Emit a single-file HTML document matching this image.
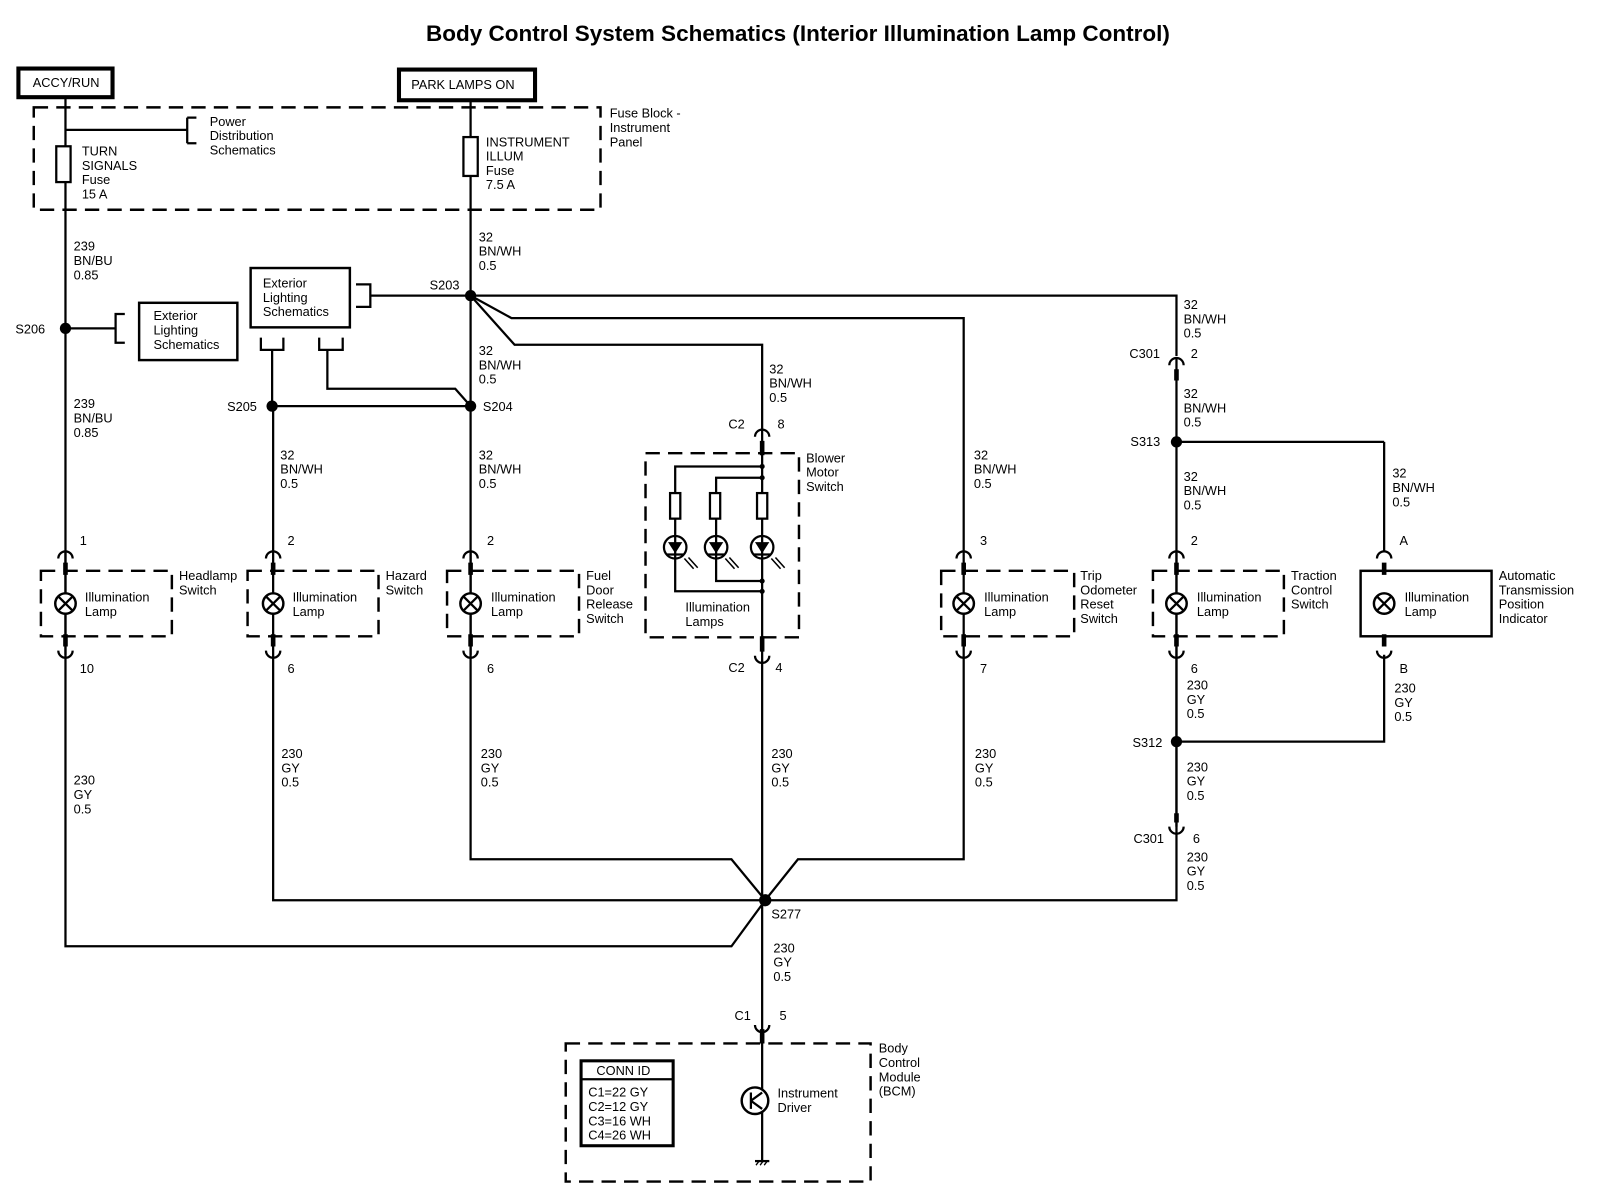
<!DOCTYPE html>
<html><head><meta charset="utf-8"><style>
html,body{margin:0;padding:0;background:#fff;}
svg{display:block;}
text{font-family:"Liberation Sans",sans-serif;font-size:12.5px;fill:#000;}
.t{font-size:22px;font-weight:bold;}
.w{stroke:#000;stroke-width:2.2;fill:none;}
.d{stroke:#000;stroke-width:2.4;fill:none;stroke-dasharray:14,8;}
.k{stroke:#000;stroke-width:4.5;fill:none;}
.f{fill:#000;}
</style></head><body>
<svg width="1600" height="1202" viewBox="0 0 1564 1175" preserveAspectRatio="none" xmlns="http://www.w3.org/2000/svg">
<text class="t" x="780" y="40" text-anchor="middle">Body Control System Schematics (Interior Illumination Lamp Control)</text>

<!-- power boxes -->
<rect x="18" y="67" width="92" height="28" fill="none" stroke="#000" stroke-width="4"/>
<text x="32" y="85">ACCY/RUN</text>
<rect x="390" y="68" width="133" height="30" fill="none" stroke="#000" stroke-width="4"/>
<text x="402" y="87">PARK LAMPS ON</text>

<!-- fuse block -->
<rect x="33" y="105" width="554" height="100" class="d"/>
<text x="596" y="115">Fuse Block -</text><text x="596" y="129">Instrument</text><text x="596" y="143">Panel</text>
<path class="w" d="M64 95 V925 H715 L748 880"/>
<path class="w" d="M64 127 H183 M183 115 V140 M183 115 H192 M183 140 H192"/>
<text x="205" y="123">Power</text><text x="205" y="137">Distribution</text><text x="205" y="151">Schematics</text>
<rect x="55" y="143" width="14" height="35" fill="#fff" stroke="#000" stroke-width="2.2"/>
<text x="80" y="152">TURN</text><text x="80" y="166">SIGNALS</text><text x="80" y="180">Fuse</text><text x="80" y="194">15 A</text>

<path class="w" d="M460 98 V840 H715 L748 880"/>
<rect x="453" y="134" width="14" height="38" fill="#fff" stroke="#000" stroke-width="2.2"/>
<text x="475" y="143">INSTRUMENT</text><text x="475" y="157">ILLUM</text><text x="475" y="171">Fuse</text><text x="475" y="185">7.5 A</text>

<text x="468" y="236">32</text><text x="468" y="250">BN/WH</text><text x="468" y="264">0.5</text>
<text x="72" y="245">239</text><text x="72" y="259">BN/BU</text><text x="72" y="273">0.85</text>

<!-- S203 area -->
<circle cx="460" cy="289" r="5.5" class="f"/>
<text x="420" y="283">S203</text>
<path class="w" d="M362 289 H1150 V348"/>
<path class="w" d="M460 289 L500 311 H942 V540"/>
<path class="w" d="M460 289 L503 337 H745 V420"/>
<rect x="245" y="262" width="97" height="58" fill="none" stroke="#000" stroke-width="2.4"/>
<text x="257" y="281">Exterior</text><text x="257" y="295">Lighting</text><text x="257" y="309">Schematics</text>
<path class="w" d="M348 278 H362 V300 H348"/>
<path class="w" d="M255 330 V342 H277 V330 M266 342 V397"/>
<path class="w" d="M312 330 V342 H335 V330 M320 342 V380 H445 L460 397"/>
<path class="w" d="M266 397 H460"/>
<circle cx="266" cy="397" r="5.5" class="f"/><circle cx="460" cy="397" r="5.5" class="f"/>
<text x="222" y="402">S205</text><text x="472" y="402">S204</text>
<text x="468" y="347">32</text><text x="468" y="361">BN/WH</text><text x="468" y="375">0.5</text>

<!-- S206 -->
<circle cx="64" cy="321" r="5.5" class="f"/>
<text x="15" y="326">S206</text>
<path class="w" d="M64 321 H113 M122 307 H113 V335 H122"/>
<rect x="136" y="296" width="96" height="56" fill="none" stroke="#000" stroke-width="2.4"/>
<text x="150" y="313">Exterior</text><text x="150" y="327">Lighting</text><text x="150" y="341">Schematics</text>
<text x="72" y="399">239</text><text x="72" y="413">BN/BU</text><text x="72" y="427">0.85</text>
<text x="274" y="449">32</text><text x="274" y="463">BN/WH</text><text x="274" y="477">0.5</text>
<text x="468" y="449">32</text><text x="468" y="463">BN/WH</text><text x="468" y="477">0.5</text>
<text x="752" y="365">32</text><text x="752" y="379">BN/WH</text><text x="752" y="393">0.5</text>
<text x="952" y="449">32</text><text x="952" y="463">BN/WH</text><text x="952" y="477">0.5</text>

<!-- hazard wire -->
<path class="w" d="M267 397 V880 H1150 V350"/>
<path class="w" d="M942 540 V840 H780 L748 880"/>

<!-- connectors top (arc at y=540) -->
<g class="w">
<path d="M57 546 A7 7 0 0 1 71 546"/><path d="M260 546 A7 7 0 0 1 274 546"/><path d="M453 546 A7 7 0 0 1 467 546"/>
<path d="M935 546 A7 7 0 0 1 949 546"/><path d="M1143 546 A7 7 0 0 1 1157 546"/><path d="M1346 546 A7 7 0 0 1 1360 546"/>
<path d="M738 427 A7 7 0 0 1 752 427"/><path d="M1143 357 A7 7 0 0 1 1157 357"/>
<path d="M57 636 A7 7 0 0 0 71 636"/><path d="M260 636 A7 7 0 0 0 274 636"/><path d="M453 636 A7 7 0 0 0 467 636"/>
<path d="M935 636 A7 7 0 0 0 949 636"/><path d="M1143 636 A7 7 0 0 0 1157 636"/><path d="M1346 636 A7 7 0 0 0 1360 636"/>
<path d="M738 641 A7 7 0 0 0 752 641"/><path d="M1143 808 A7 7 0 0 0 1157 808"/><path d="M738 1002 A7 7 0 0 0 752 1002"/>
</g>
<g class="k">
<path d="M64 550 V562 M267 550 V562 M460 550 V562 M942 550 V562 M1150 550 V562 M1353 550 V562 M745 431 V445 M1150 361 V372"/>
<path d="M64 620 V632 M267 620 V632 M460 620 V632 M942 620 V632 M1150 620 V632 M1353 620 V632 M745 622 V637 M1150 795 V804 M745 1006 V1020"/>
</g>
<text x="78" y="533">1</text><text x="281" y="533">2</text><text x="476" y="533">2</text><text x="958" y="533">3</text><text x="1164" y="533">2</text><text x="1368" y="533">A</text>
<text x="78" y="658">10</text><text x="281" y="658">6</text><text x="476" y="658">6</text><text x="958" y="658">7</text><text x="1164" y="658">6</text><text x="1368" y="658">B</text>

<!-- lamps -->
<g>
<rect x="40" y="558" width="128" height="64" class="d"/>
<rect x="242" y="558" width="128" height="64" class="d"/>
<rect x="437" y="558" width="129" height="64" class="d"/>
<rect x="920" y="558" width="130" height="64" class="d"/>
<rect x="1127" y="558" width="128" height="64" class="d"/>
<rect x="1330" y="558" width="128" height="64" fill="none" stroke="#000" stroke-width="2.4"/>
</g>
<g class="w">
<path d="M64 540 V640 M460 540 V640 M1150 540 V808 M1353 432 V540 M1353 640 V725 H1150"/>
</g>
<g stroke="#000" stroke-width="2.4" fill="#fff">
<circle cx="64" cy="590" r="10"/><circle cx="267" cy="590" r="10"/><circle cx="460" cy="590" r="10"/>
<circle cx="942" cy="590" r="10"/><circle cx="1150" cy="590" r="10"/><circle cx="1353" cy="590" r="10"/>
</g>
<g class="w">
<path d="M57 583 L71 597 M71 583 L57 597"/><path d="M260 583 L274 597 M274 583 L260 597"/><path d="M453 583 L467 597 M467 583 L453 597"/>
<path d="M935 583 L949 597 M949 583 L935 597"/><path d="M1143 583 L1157 597 M1157 583 L1143 597"/><path d="M1346 583 L1360 597 M1360 583 L1346 597"/>
</g>
<text x="83" y="588">Illumination</text><text x="83" y="602">Lamp</text>
<text x="286" y="588">Illumination</text><text x="286" y="602">Lamp</text>
<text x="480" y="588">Illumination</text><text x="480" y="602">Lamp</text>
<text x="962" y="588">Illumination</text><text x="962" y="602">Lamp</text>
<text x="1170" y="588">Illumination</text><text x="1170" y="602">Lamp</text>
<text x="1373" y="588">Illumination</text><text x="1373" y="602">Lamp</text>
<text x="175" y="567">Headlamp</text><text x="175" y="581">Switch</text>
<text x="377" y="567">Hazard</text><text x="377" y="581">Switch</text>
<text x="573" y="567">Fuel</text><text x="573" y="581">Door</text><text x="573" y="595">Release</text><text x="573" y="609">Switch</text>
<text x="1056" y="567">Trip</text><text x="1056" y="581">Odometer</text><text x="1056" y="595">Reset</text><text x="1056" y="609">Switch</text>
<text x="1262" y="567">Traction</text><text x="1262" y="581">Control</text><text x="1262" y="595">Switch</text>
<text x="1465" y="567">Automatic</text><text x="1465" y="581">Transmission</text><text x="1465" y="595">Position</text><text x="1465" y="609">Indicator</text>

<!-- blower -->
<rect x="631" y="443" width="150" height="180" class="d"/>
<text x="788" y="452">Blower</text><text x="788" y="466">Motor</text><text x="788" y="480">Switch</text>
<text x="712" y="419">C2</text><text x="760" y="419">8</text>
<text x="712" y="657">C2</text><text x="758" y="657">4</text>
<path class="w" d="M745 420 V1135"/>
<path class="w" d="M745 456 H660 V578 H745 M745 467 H700 V568 H745"/>
<g stroke="#000" stroke-width="2.2" fill="#fff">
<rect x="655" y="482" width="10" height="25"/><rect x="694" y="482" width="10" height="25"/><rect x="740" y="482" width="10" height="25"/>
<circle cx="660" cy="535" r="11"/><circle cx="700" cy="535" r="11"/><circle cx="745" cy="535" r="11"/>
</g>
<g class="w">
<path d="M660 524 V546 M700 524 V546 M745 524 V546 M652 542 H668 M692 542 H708 M737 542 H753"/>
</g>
<path class="f" d="M653 530 H667 L660 541Z M693 530 H707 L700 541Z M738 530 H752 L745 541Z"/>
<g stroke="#000" stroke-width="1.5"><path d="M669 546 L678 556 M673 545 L682 555 M709 546 L718 556 M713 545 L722 555 M754 546 L763 556 M758 545 L767 555"/></g>
<circle cx="745" cy="456" r="2.5" class="f"/><circle cx="745" cy="467" r="2.5" class="f"/><circle cx="745" cy="568" r="2.5" class="f"/><circle cx="745" cy="578" r="2.5" class="f"/>
<text x="670" y="598">Illumination</text><text x="670" y="612">Lamps</text>

<!-- lower wire labels -->
<text x="72" y="767">230</text><text x="72" y="781">GY</text><text x="72" y="795">0.5</text>
<text x="275" y="741">230</text><text x="275" y="755">GY</text><text x="275" y="769">0.5</text>
<text x="470" y="741">230</text><text x="470" y="755">GY</text><text x="470" y="769">0.5</text>
<text x="754" y="741">230</text><text x="754" y="755">GY</text><text x="754" y="769">0.5</text>
<text x="953" y="741">230</text><text x="953" y="755">GY</text><text x="953" y="769">0.5</text>

<!-- right side -->
<text x="1157" y="302">32</text><text x="1157" y="316">BN/WH</text><text x="1157" y="330">0.5</text>
<text x="1104" y="350">C301</text><text x="1164" y="350">2</text>
<text x="1157" y="389">32</text><text x="1157" y="403">BN/WH</text><text x="1157" y="417">0.5</text>
<circle cx="1150" cy="432" r="5.5" class="f"/>
<text x="1105" y="436">S313</text>
<path class="w" d="M1150 432 H1353"/>
<text x="1157" y="470">32</text><text x="1157" y="484">BN/WH</text><text x="1157" y="498">0.5</text>
<text x="1361" y="467">32</text><text x="1361" y="481">BN/WH</text><text x="1361" y="495">0.5</text>
<text x="1160" y="674">230</text><text x="1160" y="688">GY</text><text x="1160" y="702">0.5</text>
<text x="1363" y="677">230</text><text x="1363" y="691">GY</text><text x="1363" y="705">0.5</text>
<circle cx="1150" cy="725" r="5.5" class="f"/>
<text x="1107" y="730">S312</text>
<text x="1160" y="754">230</text><text x="1160" y="768">GY</text><text x="1160" y="782">0.5</text>
<text x="1108" y="824">C301</text><text x="1166" y="824">6</text>
<text x="1160" y="842">230</text><text x="1160" y="856">GY</text><text x="1160" y="870">0.5</text>

<!-- S277 -->
<circle cx="748" cy="880" r="6" class="f"/>
<text x="754" y="898">S277</text>
<text x="756" y="931">230</text><text x="756" y="945">GY</text><text x="756" y="959">0.5</text>
<text x="718" y="997">C1</text><text x="762" y="997">5</text>

<!-- BCM -->
<rect x="553" y="1020" width="298" height="135" class="d"/>
<text x="859" y="1029">Body</text><text x="859" y="1043">Control</text><text x="859" y="1057">Module</text><text x="859" y="1071">(BCM)</text>
<rect x="568" y="1037" width="90" height="83" fill="none" stroke="#000" stroke-width="3"/>
<path class="w" d="M568 1055 H658"/>
<text x="583" y="1051">CONN ID</text>
<text x="575" y="1072">C1=22 GY</text><text x="575" y="1086">C2=12 GY</text><text x="575" y="1100">C3=16 WH</text><text x="575" y="1114">C4=26 WH</text>
<circle cx="738" cy="1076" r="13" fill="#fff" stroke="#000" stroke-width="2.4"/>
<path class="w" d="M734 1068 V1084 M734 1076 L745 1068 M734 1076 L745 1084"/>
<text x="760" y="1073">Instrument</text><text x="760" y="1087">Driver</text>
<path class="w" d="M738 1135 H752"/>
<path stroke="#000" stroke-width="1.3" d="M739 1139 L742 1135 M743 1139 L746 1135 M747 1139 L750 1135"/>
</svg>
</body></html>
